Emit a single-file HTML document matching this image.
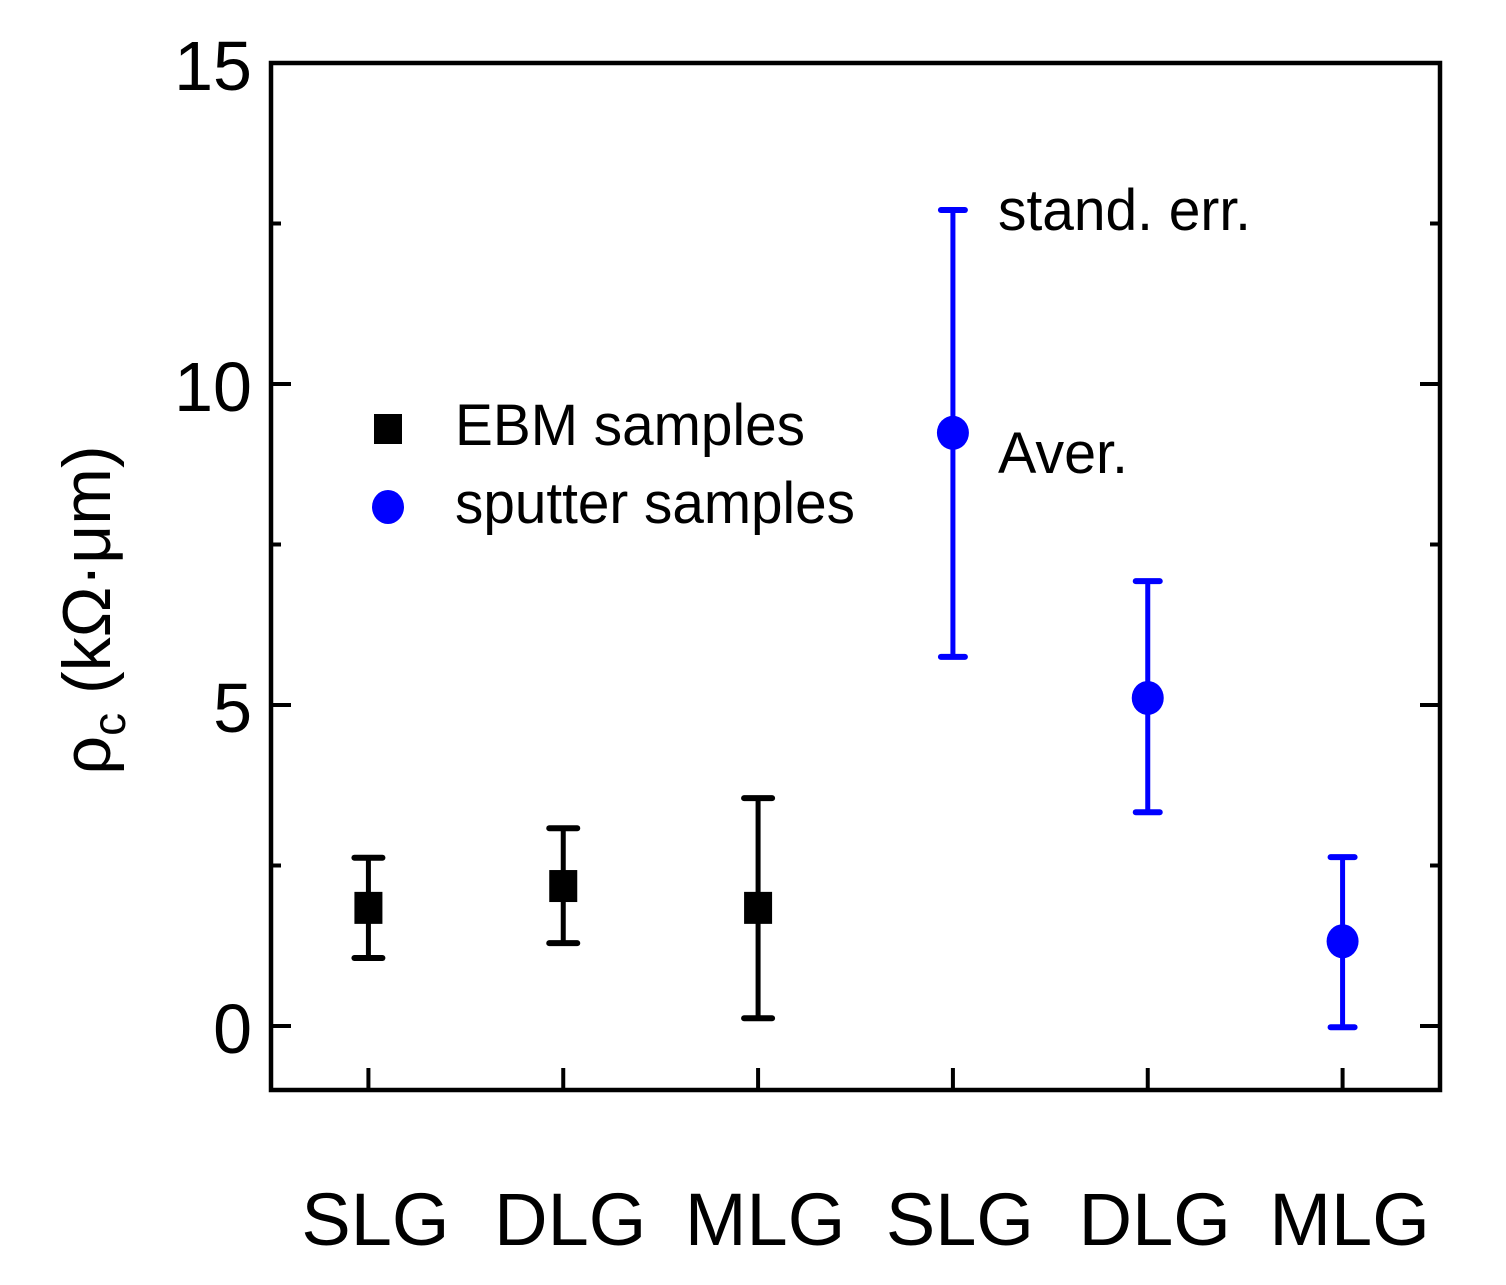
<!DOCTYPE html>
<html><head><meta charset="utf-8"><style>html,body{margin:0;padding:0;background:#fff}svg{display:block}text{font-family:"Liberation Sans",Arial,sans-serif}</style></head>
<body>
<svg id="chart" width="1506" height="1285" viewBox="0 0 1506 1285" xmlns="http://www.w3.org/2000/svg">
<g id="axes"></g>
<g id="marks"></g>
<text transform="translate(110,610) rotate(-90)" text-anchor="middle" font-size="68">ρ<tspan font-size="46" dy="15">c</tspan><tspan dy="-15"> (kΩ·μm)</tspan></text>
<g>
<rect x="374" y="414" width="28" height="30" fill="#000"/>
<text x="455" y="445" font-size="58" textLength="350" lengthAdjust="spacingAndGlyphs">EBM samples</text>
<ellipse cx="388" cy="507" rx="16" ry="17" fill="#0000ff"/>
<text x="455" y="523" font-size="58" textLength="400" lengthAdjust="spacingAndGlyphs">sputter samples</text>
</g>
<text x="998" y="230" font-size="58" textLength="253" lengthAdjust="spacingAndGlyphs">stand. err.</text>
<text x="998" y="473" font-size="58" textLength="130" lengthAdjust="spacingAndGlyphs">Aver.</text>
</svg>
<script>
const categories = ["SLG","DLG","MLG","SLG","DLG","MLG"];
const groups = ["ebm","ebm","ebm","sputter","sputter","sputter"];
const means = [1.84, 2.18, 1.84, 9.24, 5.11, 1.32];
const errHigh = [2.62, 3.08, 3.55, 12.71, 6.93, 2.63];
const errLow = [1.06, 1.29, 0.12, 5.75, 3.33, -0.02];
const yTicks = [0, 5, 10, 15];
const yMinorTicks = [2.5, 7.5, 12.5];
const yTickLabels = ["0", "5", "10", "15"];

const L=271, R=1440, T=63, B=1090;
function y(v){ return 1026 - (v)*(1026-63)/15; }
function x(i){ return L + (i+0.5)*(R-L)/categories.length; }
const NS="http://www.w3.org/2000/svg";
function mk(tag, attrs, parent){ const e=document.createElementNS(NS,tag); for(const k in attrs) e.setAttribute(k,attrs[k]); parent.appendChild(e); return e; }
const axes=document.getElementById('axes'), marks=document.getElementById('marks');
const frame=mk('rect',{x:L,y:T,width:R-L,height:B-T,fill:'none',stroke:'#000','stroke-width':4.5},axes);


yTicks.forEach((v,i)=>{
  const a=mk('line',{x1:L,x2:L+20,y1:y(v),y2:y(v),stroke:'#000','stroke-width':4},axes);
  
  
  const b=mk('line',{x1:R-20,x2:R,y1:y(v),y2:y(v),stroke:'#000','stroke-width':4},axes);
  
  
  const t=mk('text',{x:252,y:y(v)+27,'text-anchor':'end','font-size':70},axes);
  t.textContent=yTickLabels[i];
  
  
});
yMinorTicks.forEach(v=>{
  const a=mk('line',{x1:L,x2:L+10,y1:y(v),y2:y(v),stroke:'#000','stroke-width':4},axes);
  
  
  const b=mk('line',{x1:R-10,x2:R,y1:y(v),y2:y(v),stroke:'#000','stroke-width':4},axes);
  
  
});
categories.forEach((c,i)=>{
  const tk=mk('line',{x1:x(i),x2:x(i),y1:B,y2:B-22,stroke:'#000','stroke-width':4},axes);
  
  
  const t=mk('text',{x:x(i)+7,y:1245,'text-anchor':'middle','font-size':74},axes);
  t.textContent=c;
  
  
  const col = groups[i]==='ebm' ? '#000' : '#0000ff';
  const cap = groups[i]==='ebm' ? 14 : 12;
  const g=mk('g',{},marks);
  
  
  mk('line',{x1:x(i),x2:x(i),y1:y(errHigh[i]),y2:y(errLow[i]),stroke:col,'stroke-width':5},g);
  mk('line',{x1:x(i)-cap,x2:x(i)+cap,y1:y(errHigh[i]),y2:y(errHigh[i]),stroke:col,'stroke-width':6,'stroke-linecap':'round'},g);
  mk('line',{x1:x(i)-cap,x2:x(i)+cap,y1:y(errLow[i]),y2:y(errLow[i]),stroke:col,'stroke-width':6,'stroke-linecap':'round'},g);
  if(groups[i]==='ebm') mk('rect',{x:x(i)-14,y:y(means[i])-16,width:28,height:32,fill:col},g);
  else mk('ellipse',{cx:x(i),cy:y(means[i]),rx:16,ry:17,fill:col},g);
});
</script>
</body></html>
